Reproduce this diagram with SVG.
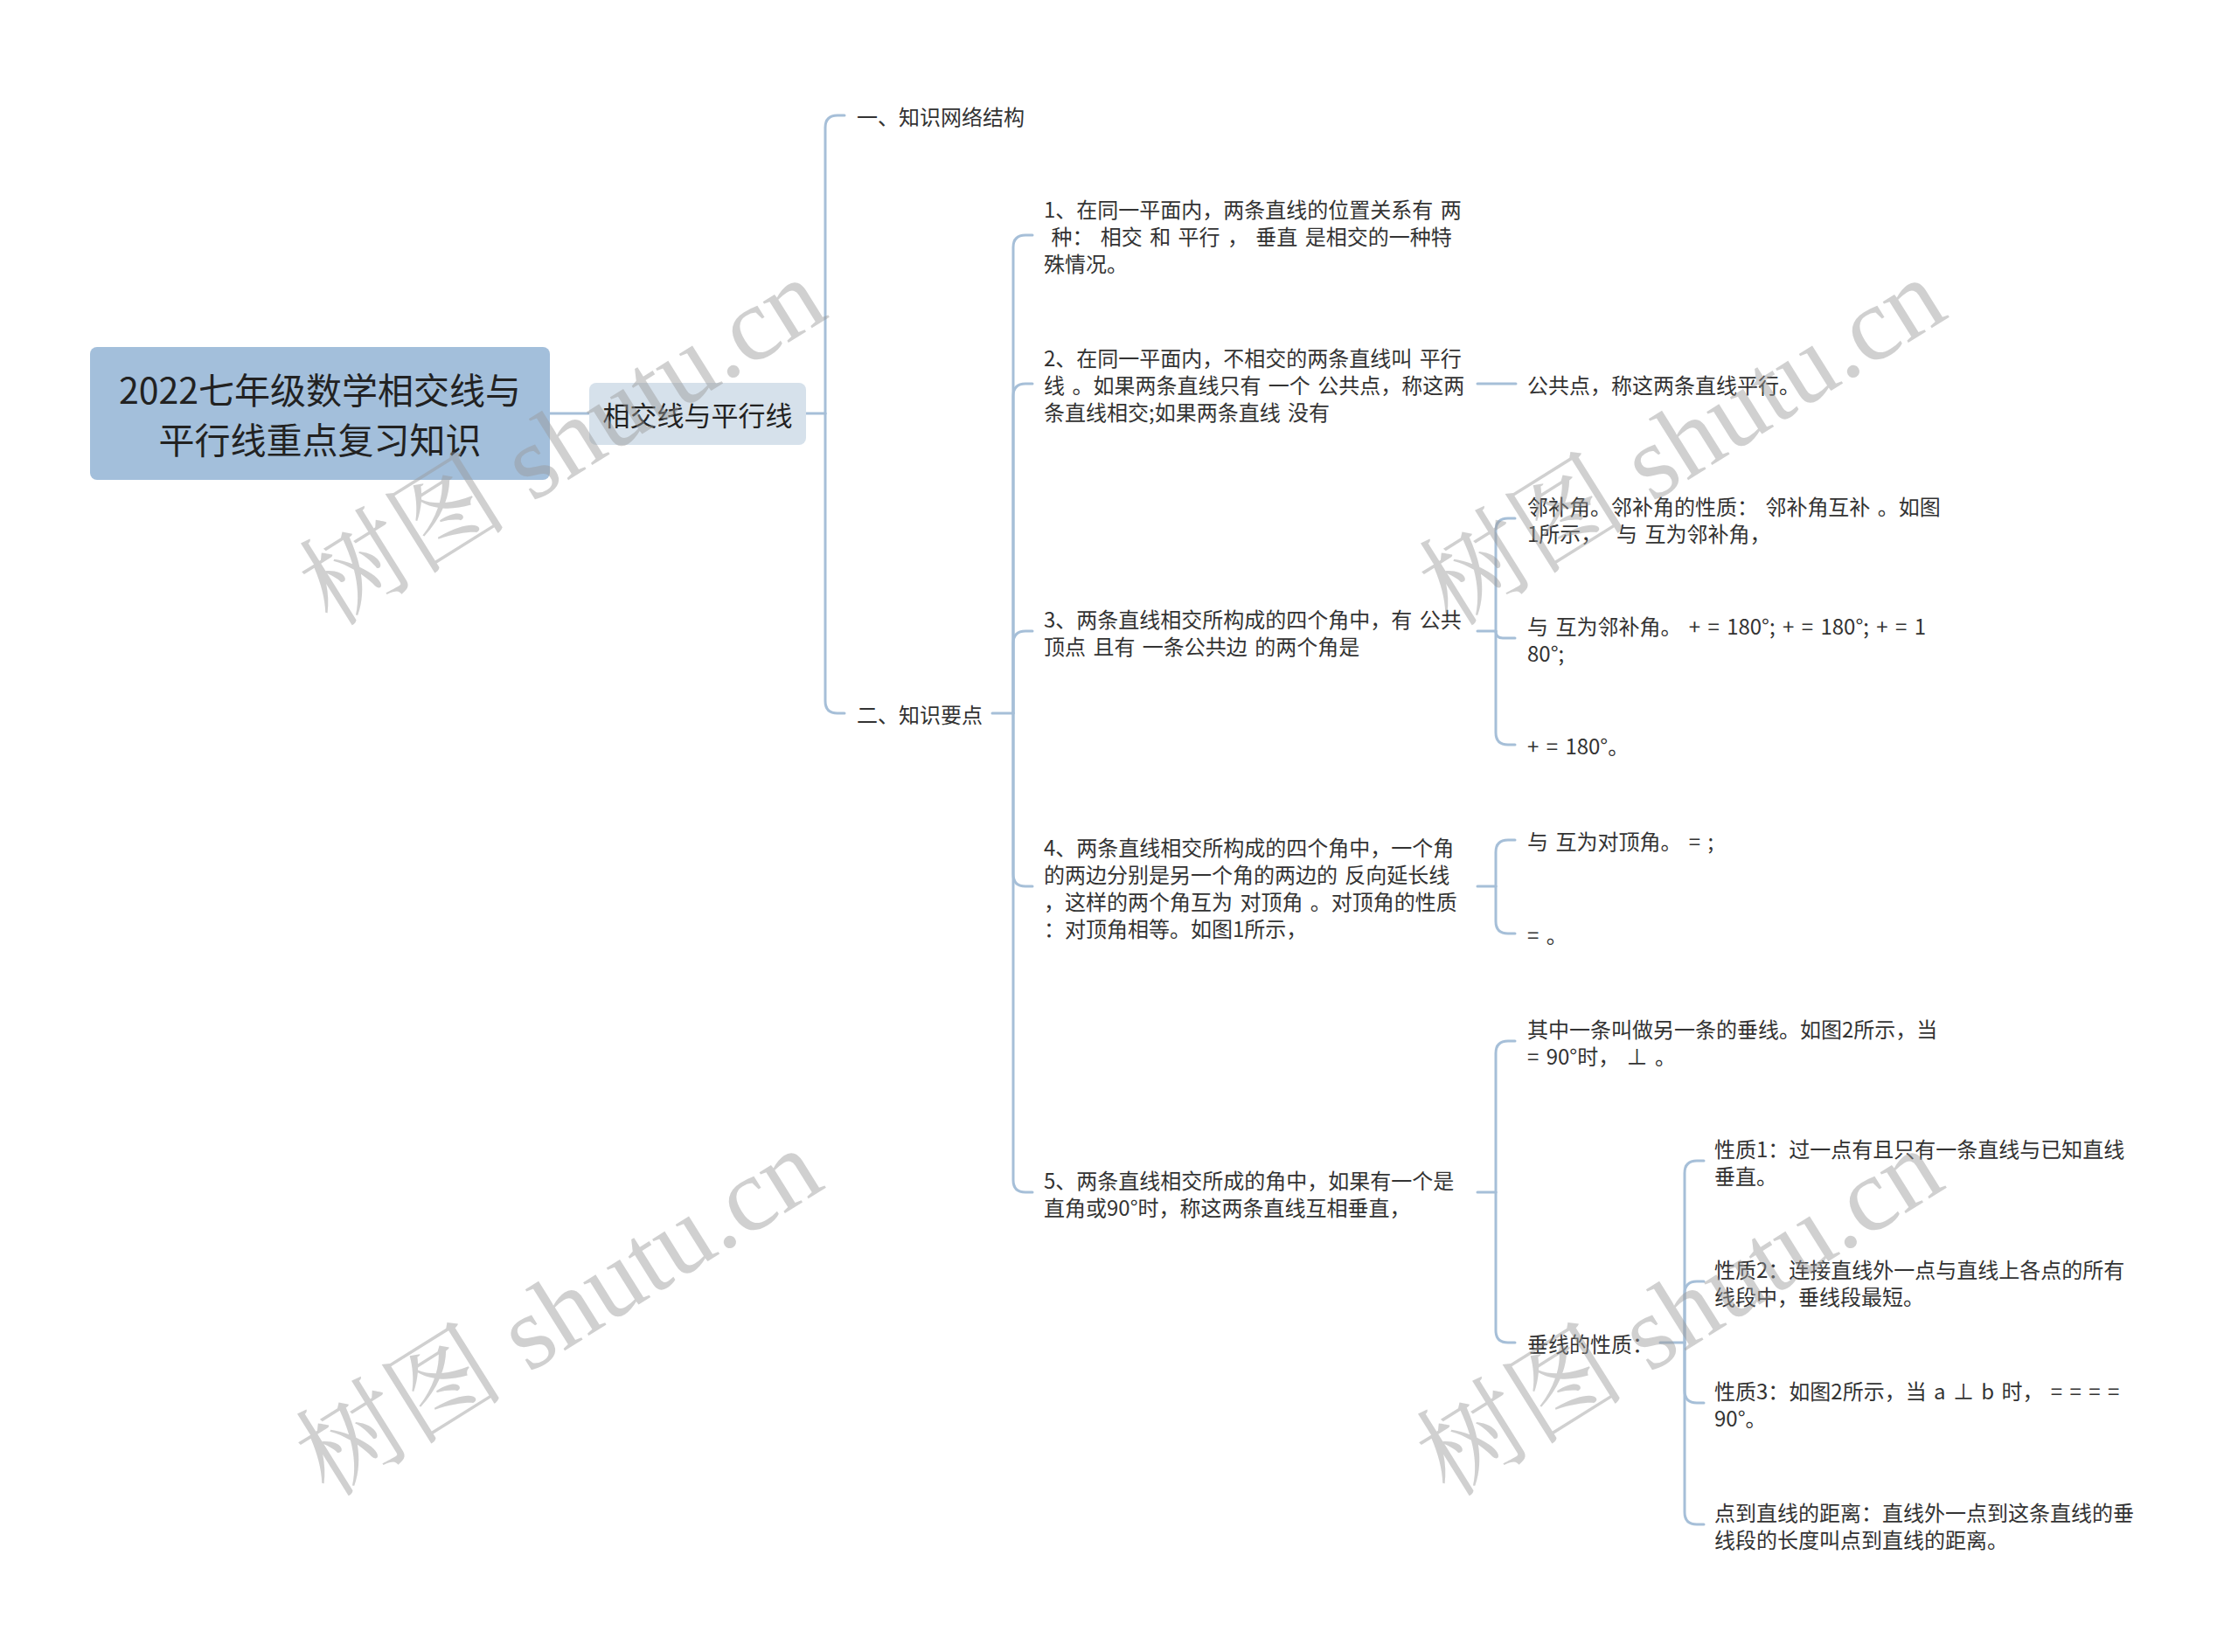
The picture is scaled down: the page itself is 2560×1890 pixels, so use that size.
<svg xmlns="http://www.w3.org/2000/svg" width="2560" height="1890" viewBox="0 0 2560 1890">
<style>
  .bg { fill: #ffffff; }
  .root-box { fill: #a3bfdb; }
  .sub-box { fill: #d6e1eb; }
  .root-t { font-family: "Noto Sans CJK SC", "Noto Sans", sans-serif; font-size: 41px; fill: #222222; text-anchor: middle; dominant-baseline: central; }
  .sub-t { font-family: "Noto Sans CJK SC", "Noto Sans", sans-serif; font-size: 31px; fill: #222222; text-anchor: middle; dominant-baseline: central; }
  .t { font-family: "Noto Sans CJK SC", "Noto Sans", sans-serif; font-size: 24px; fill: #333333; dominant-baseline: central; white-space: pre; word-spacing: 3px; }
  .ln { fill: none; stroke: #a6bfd8; stroke-width: 3; stroke-linecap: round; }
  .wm { font-family: "Liberation Serif", "Noto Serif CJK SC", "Noto Sans CJK SC", serif; font-size: 120px; fill: #999999; opacity: 0.45; text-anchor: middle; }
</style>
<rect class="bg" x="0" y="0" width="2560" height="1890"/>

<g id="connectors">
  <path class="ln" d="M629 473 H674"/>
  <path class="ln" d="M922 473 H944"/>
  <path class="ln" d="M944 473 V146 Q944 132 958 132 H966"/>
  <path class="ln" d="M944 473 V802 Q944 816 958 816 H966"/>
  <path class="ln" d="M1135 816 H1159"/>
  <path class="ln" d="M1159 816 V283 Q1159 269 1173 269 H1181"/>
  <path class="ln" d="M1159 816 V453 Q1159 439 1173 439 H1181"/>
  <path class="ln" d="M1159 816 V736 Q1159 722 1173 722 H1181"/>
  <path class="ln" d="M1159 816 V1000 Q1159 1014 1173 1014 H1181"/>
  <path class="ln" d="M1159 816 V1350 Q1159 1364 1173 1364 H1181"/>
  <path class="ln" d="M1690 439 H1734"/>
  <path class="ln" d="M1690 722 H1711"/>
  <path class="ln" d="M1711 722 V607 Q1711 593 1725 593 H1733"/>
  <path class="ln" d="M1711 722 Q1711 730 1719 730 H1733"/>
  <path class="ln" d="M1711 722 V838 Q1711 852 1725 852 H1733"/>
  <path class="ln" d="M1690 1014 H1711"/>
  <path class="ln" d="M1711 1014 V975 Q1711 961 1725 961 H1733"/>
  <path class="ln" d="M1711 1014 V1054 Q1711 1068 1725 1068 H1733"/>
  <path class="ln" d="M1690 1364 H1711"/>
  <path class="ln" d="M1711 1364 V1205 Q1711 1191 1725 1191 H1733"/>
  <path class="ln" d="M1711 1364 V1522 Q1711 1536 1725 1536 H1733"/>
  <path class="ln" d="M1899 1536 H1927"/>
  <path class="ln" d="M1927 1536 V1342 Q1927 1328 1941 1328 H1949"/>
  <path class="ln" d="M1927 1536 V1480 Q1927 1466 1941 1466 H1949"/>
  <path class="ln" d="M1927 1536 V1591 Q1927 1605 1941 1605 H1949"/>
  <path class="ln" d="M1927 1536 V1730 Q1927 1744 1941 1744 H1949"/>
</g>

<g id="root">
  <rect class="root-box" x="103" y="397" width="526" height="152" rx="8"/>
  <text class="root-t" x="366" y="444">2022七年级数学相交线与</text>
  <text class="root-t" x="366" y="501">平行线重点复习知识</text>
</g>

<g id="sub">
  <rect class="sub-box" x="674" y="438" width="248" height="71" rx="8"/>
  <text class="sub-t" x="798" y="473">相交线与平行线</text>
</g>

<g id="n-structure">
  <text class="t" x="980" y="132">一、知识网络结构</text>
</g>
<g id="n-points">
  <text class="t" x="980" y="816">二、知识要点</text>
</g>

<g id="item1">
  <text class="t" x="1194" y="238">1、在同一平面内，两条直线的位置关系有 两</text>
  <text class="t" x="1194" y="269"> 种： 相交 和 平行 ， 垂直 是相交的一种特</text>
  <text class="t" x="1194" y="300">殊情况。</text>
</g>

<g id="item2">
  <text class="t" x="1194" y="408">2、在同一平面内，不相交的两条直线叫 平行</text>
  <text class="t" x="1194" y="439">线 。如果两条直线只有 一个 公共点，称这两</text>
  <text class="t" x="1194" y="470">条直线相交;如果两条直线 没有</text>
</g>
<g id="item2-a">
  <text class="t" x="1747" y="439">公共点，称这两条直线平行。</text>
</g>

<g id="item3">
  <text class="t" x="1194" y="707">3、两条直线相交所构成的四个角中，有 公共</text>
  <text class="t" x="1194" y="738">顶点 且有 一条公共边 的两个角是</text>
</g>
<g id="item3-a">
  <text class="t" x="1747" y="578">邻补角。邻补角的性质： 邻补角互补 。如图</text>
  <text class="t" x="1747" y="609">1所示，  与 互为邻补角，</text>
</g>
<g id="item3-b">
  <text class="t" x="1747" y="715">与 互为邻补角。 + = 180°; + = 180°; + = 1</text>
  <text class="t" x="1747" y="746">80°;</text>
</g>
<g id="item3-c">
  <text class="t" x="1747" y="852">+ = 180°。</text>
</g>

<g id="item4">
  <text class="t" x="1194" y="968">4、两条直线相交所构成的四个角中，一个角</text>
  <text class="t" x="1194" y="999">的两边分别是另一个角的两边的 反向延长线</text>
  <text class="t" x="1194" y="1030">，这样的两个角互为 对顶角 。对顶角的性质</text>
  <text class="t" x="1194" y="1061">：对顶角相等。如图1所示，</text>
</g>
<g id="item4-a">
  <text class="t" x="1747" y="961">与 互为对顶角。 = ;</text>
</g>
<g id="item4-b">
  <text class="t" x="1747" y="1068">= 。</text>
</g>

<g id="item5">
  <text class="t" x="1194" y="1349">5、两条直线相交所成的角中，如果有一个是</text>
  <text class="t" x="1194" y="1380">直角或90°时，称这两条直线互相垂直，</text>
</g>
<g id="item5-a">
  <text class="t" x="1747" y="1176">其中一条叫做另一条的垂线。如图2所示，当</text>
  <text class="t" x="1747" y="1207">= 90°时， ⊥ 。</text>
</g>
<g id="item5-b">
  <text class="t" x="1747" y="1536">垂线的性质：</text>
</g>
<g id="prop1">
  <text class="t" x="1961" y="1313">性质1：过一点有且只有一条直线与已知直线</text>
  <text class="t" x="1961" y="1344">垂直。</text>
</g>
<g id="prop2">
  <text class="t" x="1961" y="1451">性质2：连接直线外一点与直线上各点的所有</text>
  <text class="t" x="1961" y="1482">线段中，垂线段最短。</text>
</g>
<g id="prop3">
  <text class="t" x="1961" y="1590">性质3：如图2所示，当 a ⊥ b 时， = = = =</text>
  <text class="t" x="1961" y="1621">90°。</text>
</g>
<g id="prop4">
  <text class="t" x="1961" y="1729">点到直线的距离：直线外一点到这条直线的垂</text>
  <text class="t" x="1961" y="1760">线段的长度叫点到直线的距离。</text>
</g>

<g id="watermarks">
  <text class="wm" transform="translate(665 540) rotate(-32)">树图 shutu.cn</text>
  <text class="wm" transform="translate(1946 540) rotate(-32)">树图 shutu.cn</text>
  <text class="wm" transform="translate(661 1536) rotate(-32)">树图 shutu.cn</text>
  <text class="wm" transform="translate(1943 1536) rotate(-32)">树图 shutu.cn</text>
</g>
</svg>
